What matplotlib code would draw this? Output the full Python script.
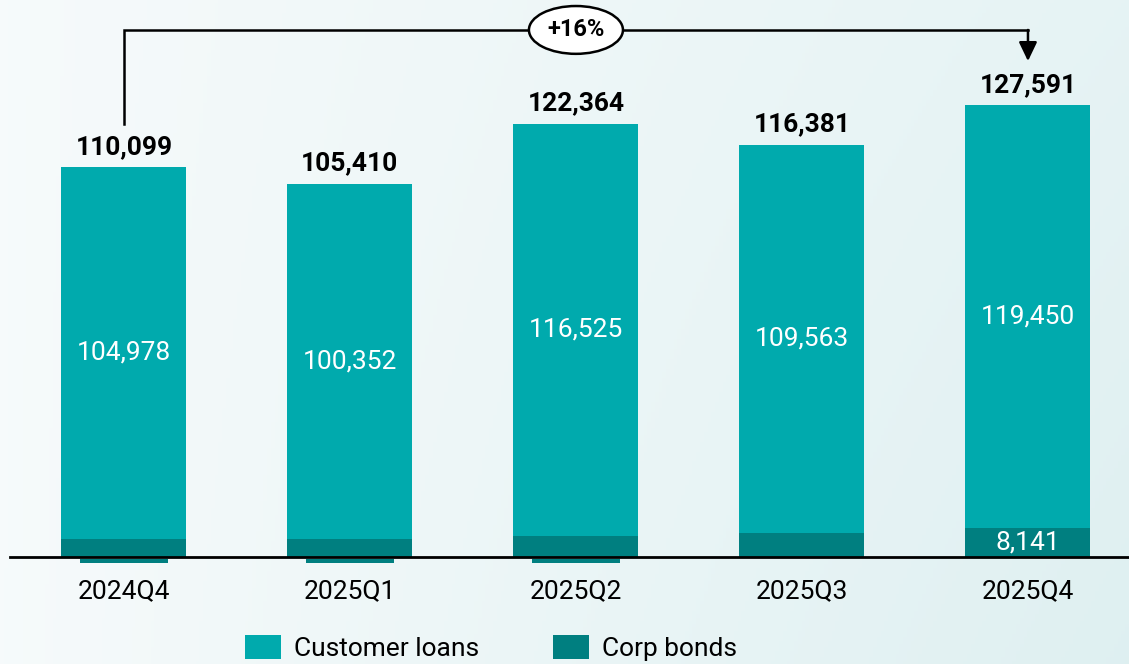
import matplotlib
matplotlib.use("Agg")
import matplotlib.pyplot as plt
import numpy as np
from matplotlib.patches import Ellipse, Patch, Rectangle
from matplotlib.transforms import blended_transform_factory

categories = ["2024Q4", "2025Q1", "2025Q2", "2025Q3", "2025Q4"]
customer_loans = [104978, 100352, 116525, 109563, 119450]
corp_bonds = [5121, 5058, 5839, 6818, 8141]
totals = [110099, 105410, 122364, 116381, 127591]
growth_label = "+16%"

c_loans = "#00AAAD"
c_bonds = "#007F80"

plt.rcParams['font.family'] = ['Roboto', 'DejaVu Sans']

W, H = 1129, 664
fig = plt.figure(figsize=(W / 100, H / 100), dpi=100)

# background gradient
bg = fig.add_axes([0, 0, 1, 1], zorder=-10)
xx = np.linspace(0, 1, 300)
yy = np.linspace(0, 1, 200)
X, Y = np.meshgrid(xx, yy)
base = np.array([0.965, 0.982, 0.985])
tint = np.array([0.85, 0.93, 0.935])
t = np.clip(0.55 * X + 0.25 * (1 - Y) * X, 0, 1)
img = base[None, None, :] * (1 - t[..., None]) + tint[None, None, :] * t[..., None]
bg.imshow(img, extent=[0, 1, 0, 1], aspect='auto', origin='lower')
bg.axis('off')

ax = fig.add_axes([10 / W, (H - 557) / H, 1119 / W, 557 / H])
ax.patch.set_alpha(0)
x = np.arange(len(categories))
width = 0.553
ax.bar(x, corp_bonds, width, color=c_bonds, edgecolor='none', zorder=2)
ax.bar(x, customer_loans, width, bottom=corp_bonds, color=c_loans,
       edgecolor='none', zorder=2)
ax.set_xlim(-0.504, 4.447)
ax.set_ylim(0, 157250)

FS = 19
for i in range(len(categories)):
    ax.text(x[i], corp_bonds[i] + customer_loans[i] / 2, f"{customer_loans[i]:,}",
            ha='center', va='center', color='white', fontsize=FS)
    ax.annotate(f"{totals[i]:,}", (x[i], totals[i]), xytext=(0, 9.5),
                textcoords='offset points', ha='center', va='baseline',
                fontsize=FS, fontweight='bold', color='black')
ax.text(x[-1], corp_bonds[-1] / 2, f"{corp_bonds[-1]:,}", ha='center', va='center',
        color='white', fontsize=FS)

# small clipped label remnants below the axis for the first three bars
trans = blended_transform_factory(ax.transData, fig.transFigure)
for i in range(3):
    ax.add_patch(Rectangle((x[i] - 0.195, (H - 563) / H), 0.39, 4 / H,
                           transform=trans, facecolor=c_bonds, edgecolor='none',
                           clip_on=False, zorder=1))

for s in ['top', 'right', 'left']:
    ax.spines[s].set_visible(False)
ax.spines['bottom'].set_linewidth(2)
ax.spines['bottom'].set_color('black')
ax.spines['bottom'].set_zorder(3)
ax.set_yticks([])
ax.set_xticks(x)
ax.set_xticklabels(categories, fontsize=FS)
ax.tick_params(axis='x', length=0, pad=16)

# growth bracket
ytop = 148800
y0 = 122250
ax.plot([x[0], x[0], x[-1]], [y0, ytop, ytop], color='black', lw=1.8,
        clip_on=False, zorder=3, solid_joinstyle='miter', solid_capstyle='projecting')
ax.annotate("", xy=(x[-1], 140000), xytext=(x[-1], ytop),
            arrowprops=dict(arrowstyle='-|>,head_length=1.15,head_width=0.55',
                            color='black', lw=1.8,
                            mutation_scale=10, shrinkA=0, shrinkB=0),
            annotation_clip=False, zorder=3)
xm = 2.0
ell = Ellipse((xm, ytop), width=0.416, height=13500, facecolor='white',
              edgecolor='black', lw=1.8, zorder=4, clip_on=False)
ax.add_patch(ell)
ax.text(xm, ytop, growth_label, ha='center', va='center', fontsize=17,
        fontweight='bold', zorder=5)

handles = [Patch(facecolor=c_loans, label="Customer loans"),
           Patch(facecolor=c_bonds, label="Corp bonds")]
fig.legend(handles=handles, loc='center', bbox_to_anchor=(0.435, 0.024), ncol=2,
           frameon=False, fontsize=FS, handlelength=1.36, handleheight=1.02,
           handletextpad=0.49, columnspacing=2.8, borderpad=0)

fig.savefig("out.png", dpi=100)
